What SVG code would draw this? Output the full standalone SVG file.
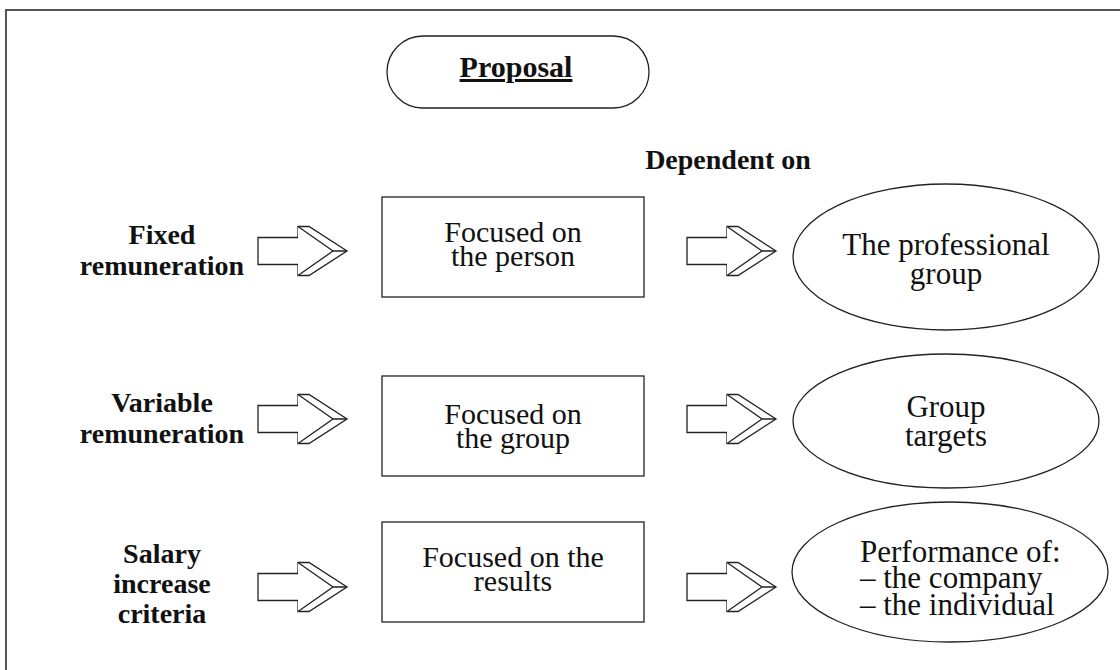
<svg xmlns="http://www.w3.org/2000/svg" width="1120" height="670" viewBox="0 0 1120 670">
<style>
.t{font-family:"Liberation Serif","Times New Roman",serif;fill:#111;text-anchor:middle}
.s{font-family:"Liberation Serif","Times New Roman",serif;fill:#111;text-anchor:start;font-size:31px}
.b{font-weight:bold}
.n{font-size:30px}
.e{font-size:31px}
.l{font-size:28px}
.shape{fill:#fff;stroke:#222;stroke-width:1.3}
.arr{fill:#fff;stroke:#222;stroke-width:1.3;stroke-linejoin:miter}
</style>
<defs>
<g id="arrow">
<path class="arr" d="M0,-13.5 H40 V-24.5 H51 L89,0 L51,24.5 H40 V13.5 H0 Z"/>
<path class="arr" fill="none" d="M40,-24.5 L75,0 L40,24.5 M75,0 H89"/>
</g>
</defs>
<rect width="1120" height="670" fill="#fff"/>
<path d="M6,670 V10 H1120" fill="none" stroke="#555" stroke-width="2"/>

<g id="proposal">
<rect class="shape" x="387" y="36" width="262" height="72" rx="36" ry="36"/>
<text class="t b" x="516" y="77" font-size="30" text-decoration="underline">Proposal</text>
</g>
<g id="dependent-label">
<text class="t b l" x="728" y="169">Dependent on</text>
</g>

<g id="label-fixed">
<text class="t b l" x="162" y="244">Fixed</text>
<text class="t b l" x="162" y="275">remuneration</text>
</g>
<g id="label-variable">
<text class="t b l" x="162" y="412">Variable</text>
<text class="t b l" x="162" y="443">remuneration</text>
</g>
<g id="label-salary">
<text class="t b l" x="162" y="563">Salary</text>
<text class="t b l" x="162" y="593">increase</text>
<text class="t b l" x="162" y="623">criteria</text>
</g>

<g id="box-person">
<rect class="shape" x="382" y="197" width="262" height="100"/>
<text class="t n" x="513" y="242">Focused on</text>
<text class="t n" x="513" y="266">the person</text>
</g>
<g id="box-group">
<rect class="shape" x="382" y="376" width="262" height="100"/>
<text class="t n" x="513" y="424">Focused on</text>
<text class="t n" x="513" y="448">the group</text>
</g>
<g id="box-results">
<rect class="shape" x="382" y="522" width="262" height="100"/>
<text class="t n" x="513" y="567">Focused on the</text>
<text class="t n" x="513" y="591">results</text>
</g>

<g id="ell-professional">
<ellipse class="shape" cx="946" cy="257" rx="153" ry="73"/>
<text class="t e" x="946" y="255">The professional</text>
<text class="t e" x="946" y="284">group</text>
</g>
<g id="ell-targets">
<ellipse class="shape" cx="946" cy="421" rx="153" ry="67"/>
<text class="t e" x="946" y="417">Group</text>
<text class="t e" x="946" y="446">targets</text>
</g>
<g id="ell-performance">
<ellipse class="shape" cx="950" cy="572" rx="158" ry="70"/>
<text class="s" x="860" y="562">Performance of:</text>
<text class="s" x="860" y="588">– the company</text>
<text class="s" x="860" y="615">– the individual</text>
</g>

<g id="connectors">
<use href="#arrow" x="258" y="251"/>
<use href="#arrow" x="687" y="251"/>
<use href="#arrow" x="258" y="419"/>
<use href="#arrow" x="687" y="419"/>
<use href="#arrow" x="258" y="587"/>
<use href="#arrow" x="687" y="587"/>
</g>
</svg>
